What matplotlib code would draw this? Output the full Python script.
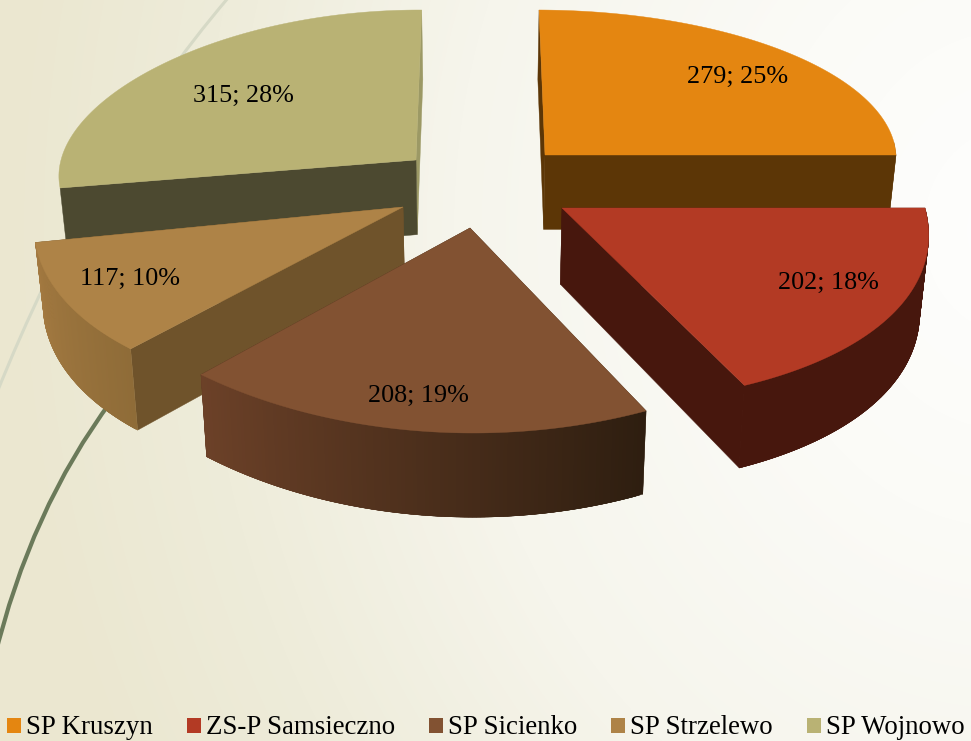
#! /usr/bin/env python3
# -*- coding: utf-8 -*-
import numpy as np
import matplotlib
matplotlib.use("Agg")
import matplotlib.pyplot as plt
from matplotlib.colors import LinearSegmentedColormap, to_rgb
from matplotlib.patches import PathPatch
from matplotlib.path import Path

szkoly = ["SP Kruszyn", "ZS-P Samsieczno", "SP Sicienko", "SP Strzelewo", "SP Wojnowo"]
wartosci = [279, 202, 208, 117, 315]
kolory = ["#e48611", "#b33a24", "#825232", "#ae8347", "#b9b274"]
sciany = ["#5c3606", "#47170d", "#3f2a17", "#6f532b", "#4c4930"]
# outer wall colour at start and end of each slice
boki_start = ["#5c3606", "#47170d", "#2e1e10", "#8f6c38", "#4c4930"]
boki_stop = ["#5c3606", "#47170d", "#6c4128", "#a47a41", "#4c4930"]

# each slice was fitted on its own (the original has perspective)
srodki = [(545, 155), (562, 208), (470, 228), (403, 207), (416, 160)]
rx = [351, 363, 408, 367, 355]
ry = [145, 196, 205, 190, 150]
skos = [0.058, 0.081, 0.015, -0.2, -0.023]
zbieg = [0, 0.1, 0, 0, 0.1]
wyklad = [1, 1, 1.15, 1, 1]
etykiety_xy = [(738, 77), (828, 283), (418, 396), (130, 279), (243, 96)]
legenda_x = [7, 187, 429, 611, 807]
OBROT = np.radians(0.4)
VX = 480

plt.rcParams["font.family"] = ["Liberation Serif", "DejaVu Serif"]


def tlo(ax):
    yy, xx = np.mgrid[0:741, 0:971]
    d = np.hypot(xx - 1010, (yy - 230) * 0.85) / 1010
    cm = LinearSegmentedColormap.from_list(
        "tlo", [(0, "#fefefd"), (0.25, "#fbfbf7"), (0.55, "#f6f5ec"), (0.8, "#eeecda"), (1, "#ebe7d0")])
    ax.imshow(np.clip(d, 0, 1), cmap=cm, vmin=0, vmax=1, extent=(0, 971, 741, 0), zorder=0, aspect="auto")


def luk(ax, p0, p1, p2, kolor, lw):
    sciezka = Path([p0, p1, p2], [Path.MOVETO, Path.CURVE3, Path.CURVE3])
    ax.add_patch(PathPatch(sciezka, fc="none", ec=kolor, lw=lw, zorder=1, capstyle="butt"))


def punkt(i, t):
    c = np.cos(t)
    x = srodki[i][0] + rx[i] * np.sin(t) * (1 - zbieg[i] * c) - skos[i] * ry[i] * c
    y = srodki[i][1] - ry[i] * np.sign(c) * abs(c) ** wyklad[i]
    return x, y


def dol(x, y):
    # bottom edge: walls lean slightly towards the middle
    return x + (VX - x) * 0.02, y + 69 + 0.035 * y


def sciana(ax, p, q, kolor, z):
    xs = [p[0], q[0], dol(*q)[0], dol(*p)[0]]
    ys = [p[1], q[1], dol(*q)[1], dol(*p)[1]]
    ax.fill(xs, ys, color=kolor, lw=0.3, zorder=z)


def plaster(ax, i, t0, t1, z):
    sx, sy = srodki[i]
    ts = np.linspace(t0, t1, 120)
    pts = [punkt(i, t) for t in ts]

    # outer wall, only the slices that show it from the front
    if i in (1, 2, 3):
        c0 = np.array(to_rgb(boki_start[i]))
        c1 = np.array(to_rgb(boki_stop[i]))
        for k in range(len(ts) - 1):
            kol = c0 + (c1 - c0) * k / (len(ts) - 2)
            sciana(ax, pts[k], pts[min(k + 3, len(ts) - 1)], tuple(kol), z + 0.1)
    elif i == 0:
        sciana(ax, pts[-8], pts[-1], sciany[i], z)

    kolor_daleka = "#9c9965" if i == 4 else sciany[i]
    sciana(ax, pts[-1], (sx, sy), kolor_daleka, z)
    sciana(ax, pts[0], (sx, sy), sciany[i], z)

    xs = [sx] + [p[0] for p in pts]
    ys = [sy] + [p[1] for p in pts]
    ax.fill(xs, ys, color=kolory[i], lw=0.3, zorder=z + 0.2)


def main():
    fig = plt.figure(figsize=(9.71, 7.41), dpi=100)
    ax = fig.add_axes([0, 0, 1, 1])
    tlo(ax)
    luk(ax, (228, -2), (90, 160), (-4, 395), "#d6d9c6", 2.2)
    luk(ax, (112, 400), (30, 510), (-6, 660), "#6b7a5a", 3)

    suma = sum(wartosci)
    katy = np.cumsum([0] + wartosci) / suma * 2 * np.pi + OBROT
    kolejnosc = [0, 4, 3, 2, 1]
    for z, i in enumerate(kolejnosc):
        plaster(ax, i, katy[i], katy[i + 1], 2 + z)

    for i, v in enumerate(wartosci):
        ax.text(etykiety_xy[i][0], etykiety_xy[i][1], f"{v}; {round(v / suma * 100)}%",
                fontsize=18.8, ha="center", va="center", color="black", zorder=10)

    for i, nazwa in enumerate(szkoly):
        ax.fill([legenda_x[i], legenda_x[i] + 14, legenda_x[i] + 14, legenda_x[i]],
                [718, 718, 733, 733], color=kolory[i], lw=0, zorder=10)
        ax.text(legenda_x[i] + 19.5, 734, nazwa, fontsize=19.4, ha="left", va="baseline",
                color="black", zorder=10)

    ax.set_xlim(0, 971)
    ax.set_ylim(741, 0)
    ax.axis("off")
    fig.savefig("out.png", dpi=100)
    return 0


main()
